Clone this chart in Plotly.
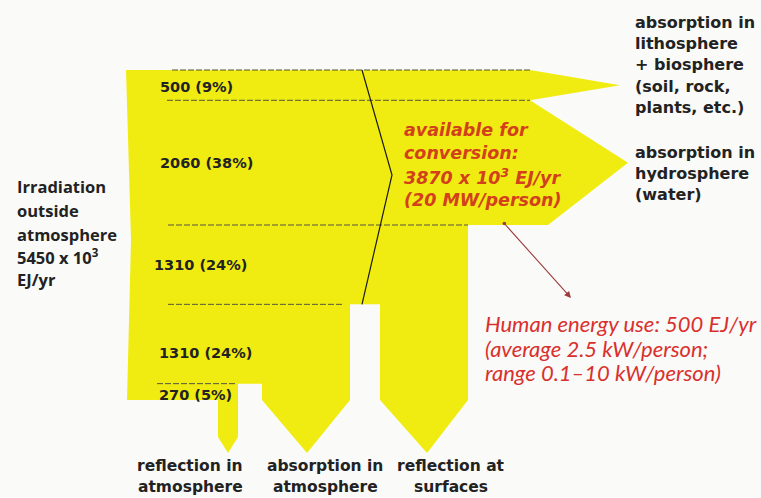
import numpy as np
import plotly.graph_objects as go

# ---------------- data ----------------
band_values = [500, 2060, 1310, 1310, 270]          # x 10^3 EJ/yr
band_percent = [9, 38, 24, 24, 5]
total_irradiation = 5450
available_total = 3870
human_use = 500

right_labels = [["absorption in", "lithosphere", "+ biosphere", "(soil, rock,", "plants, etc.)"],
                ["absorption in", "hydrosphere", "(water)"]]
bottom_labels = [["reflection in", "atmosphere"],
                 ["absorption in", "atmosphere"],
                 ["reflection at", "surfaces"]]
left_label = ["Irradiation", "outside", "atmosphere", "5450 x 10<sup>3</sup>", "EJ/yr"]
available_label = ["available for", "conversion:", "3870 x 10<sup>3</sup> EJ/yr", "(20 MW/person)"]
human_label = ["Human energy use: 500 EJ/yr", "(average 2.5 kW/person;", "range 0.1\u201310 kW/person)"]

# ---------------- scale ----------------
W, H = 761, 498
PX_TOP, PX_BOT = 70, 400
TOTAL = sum(band_values)
U = TOTAL / (PX_BOT - PX_TOP)           # value units per pixel


def vy(py):
    return TOTAL - (py - PX_TOP) * U


b = [TOTAL] + list(TOTAL - np.cumsum(band_values))   # band boundaries (top -> bottom)
b0, b1, b2, b3, b4, b5 = b
tip1 = (b0 + b1) / 2
tip2 = (b1 + b2) / 2
TIP = vy(453)

YELLOW = "#F0EC12"
TXT = "#222222"
RED1 = "#D2401C"
RED2 = "#D9302E"

poly = [
    (126, b0), (530, b0), (620, tip1), (530, b1), (628, tip2), (548, b2),
    (468, b2), (468, b5), (427, TIP), (380, b5), (380, b3), (350, b3),
    (350, b5), (307, TIP), (262, b5), (262, b4), (238, b4), (238, vy(437)),
    (228, TIP), (218, vy(437)), (218, b5), (127, b5), (131, vy(240)), (126, b0)
]

fig = go.Figure()
fig.add_trace(go.Scatter(
    x=[p[0] for p in poly], y=[p[1] for p in poly], mode="lines",
    fill="toself", fillcolor=YELLOW, line=dict(width=0), hoverinfo="skip",
    showlegend=False))

# dashed band separators
dash_spans = [(172, 530), (167, 530), (168, 468), (168, 343), (157, 237)]
for yv, (xa, xb) in zip([b0, b1, b2, b3, b4], dash_spans):
    fig.add_trace(go.Scatter(x=[xa, xb], y=[yv, yv], mode="lines",
                             line=dict(color="#55553a", width=1, dash="6px,2px"),
                             hoverinfo="skip", showlegend=False))

# bracket line for "available for conversion"
fig.add_trace(go.Scatter(x=[362, 392, 362], y=[b0, vy(175), b3], mode="lines",
                         line=dict(color="#1a1a1a", width=1.2),
                         hoverinfo="skip", showlegend=False))

ann = []
# band value labels
label_x = [158, 158, 152, 157, 157]
label_off = [2, 0, 0, 9, 3]
for i, (v, pc) in enumerate(zip(band_values, band_percent)):
    mid_px = PX_TOP + ((TOTAL - (b[i] + b[i + 1]) / 2) / U)
    ann.append(dict(x=label_x[i], y=vy(mid_px + label_off[i]), text=f"{v} ({pc}%)",
                    xanchor="left", yanchor="middle", showarrow=False,
                    font=dict(family="DejaVu Sans", size=14.5, color=TXT, weight="bold")))


def add_lines(lines, x, ys, anchor, font):
    for t, py in zip(lines, ys):
        ann.append(dict(x=x, y=vy(py), text=t, xanchor=anchor, yanchor="middle",
                        showarrow=False, font=font))


bold_font = dict(family="DejaVu Sans", size=16, color=TXT, weight="bold")
add_lines(right_labels[0], 633, [22, 43, 64, 86, 107], "left", bold_font)
add_lines(right_labels[1], 633, [152, 173, 194], "left", bold_font)

bfont = dict(family="DejaVu Sans", size=15.5, color=TXT, weight="bold")
for lines, cx in zip(bottom_labels, [190, 325, 451]):
    add_lines(lines, cx, [466, 487], "center", bfont)

add_lines(left_label, 15, [186, 210, 234, 257, 279], "left",
          dict(family="Open Sans", size=16.5, color=TXT, weight="bold"))

add_lines(available_label, 402, [130, 153, 177, 200], "left",
          dict(family="DejaVu Sans", size=17.5, color=RED1, style="italic", weight="bold"))

add_lines(human_label, 483, [323, 348, 372], "left",
          dict(family="Lato", size=22, color=RED2, style="italic"))

# pointer arrow
ann.append(dict(x=571, y=vy(298), ax=503, ay=vy(222), xref="x", yref="y",
                axref="x", ayref="y", text="", showarrow=True,
                arrowhead=2, arrowsize=1.2, arrowwidth=1.1, arrowcolor="#9c3b3b",
                arrowside="end+start", startarrowhead=6, startarrowsize=0.8))

fig.update_layout(
    width=W, height=H, autosize=False,
    margin=dict(l=0, r=0, t=0, b=0),
    paper_bgcolor="#FAFAF8", plot_bgcolor="#FAFAF8",
    xaxis=dict(range=[0, W], visible=False, fixedrange=True),
    yaxis=dict(range=[vy(H), vy(0)], visible=False, fixedrange=True),
    annotations=ann, showlegend=False,
)

fig.write_html("out.html", config={"displayModeBar": False},
               post_script="document.body.style.margin='0';document.body.style.padding='0';")
